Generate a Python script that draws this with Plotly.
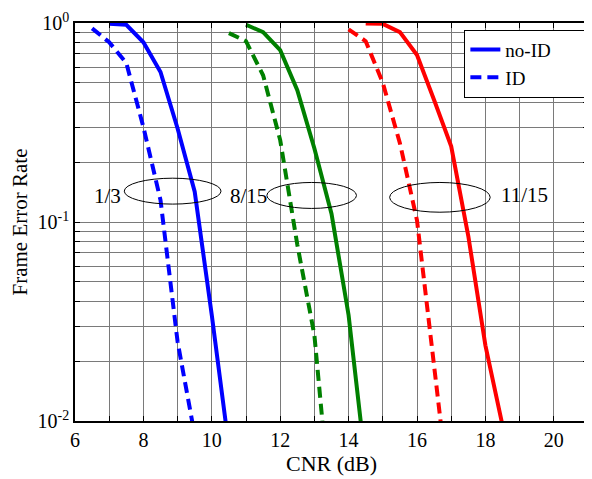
import plotly.graph_objects as go
import math

# ---- data ----
blue_noid_x = [7.0, 7.5, 8.0, 8.5, 9.0, 9.5, 10.0, 10.5]
blue_noid_y = [0.99, 0.98, 0.80, 0.567, 0.295, 0.142, 0.034, 0.0074]
blue_id_x = [6.5, 7.0, 7.5, 8.0, 8.5, 9.0, 9.5]
blue_id_y = [0.94, 0.80, 0.63, 0.30, 0.129, 0.025, 0.0085]

green_noid_x = [11.0, 11.5, 12.0, 12.5, 13.0, 13.5, 14.0, 14.5]
green_noid_y = [0.98, 0.90, 0.73, 0.46, 0.234, 0.11, 0.034, 0.006]
green_id_x = [10.5, 11.0, 11.5, 12.0, 12.5, 13.0, 13.5]
green_id_y = [0.89, 0.81, 0.546, 0.258, 0.077, 0.027, 0.0032]

red_noid_x = [14.5, 15.0, 15.5, 16.0, 16.5, 17.0, 17.5, 18.0, 18.5]
red_noid_y = [0.995, 0.99, 0.90, 0.69, 0.41, 0.24, 0.085, 0.024, 0.0095]
red_id_x = [14.0, 14.5, 15.0, 15.5, 16.0, 16.5, 17.0]
red_id_y = [0.93, 0.81, 0.50, 0.249, 0.102, 0.019, 0.0035]

legend_names = ["no-ID", "ID"]
rate_labels = ["1/3", "8/15", "11/15"]
label_x = [6.96, 11.07, 19.14]
label_y = [0.135, 0.135, 0.137]
ellipse_x0 = [7.44, 11.61, 15.20]
ellipse_x1 = [10.27, 14.23, 18.14]
ellipse_ylo = [0.123, 0.117, 0.112]
ellipse_yhi = [0.166, 0.158, 0.158]

x_major = [6, 8, 10, 12, 14, 16, 18, 20]
x_minor = [7, 9, 11, 13, 15, 17, 19, 21]
y_major = [0.01, 0.1, 1]
y_major_text = ["10<sup>-2</sup>", "10<sup>-1</sup>", "10<sup>0</sup>"]
y_minor = [0.02, 0.03, 0.04, 0.05, 0.06, 0.07, 0.08, 0.09,
           0.2, 0.3, 0.4, 0.5, 0.6, 0.7, 0.8, 0.9]

FONT = "Liberation Serif, Times New Roman, serif"
DASH = "11px,6px"
LW = 4
PAD = "\u00a0" * 6  # widen the legend box like the original

fig = go.Figure()
series = [
    (blue_noid_x, blue_noid_y, "#0000FF", "solid", legend_names[0] + PAD, True),
    (blue_id_x, blue_id_y, "#0000FF", DASH, legend_names[1], True),
    (green_noid_x, green_noid_y, "#008000", "solid", legend_names[0], False),
    (green_id_x, green_id_y, "#008000", DASH, legend_names[1], False),
    (red_noid_x, red_noid_y, "#FF0000", "solid", legend_names[0], False),
    (red_id_x, red_id_y, "#FF0000", DASH, legend_names[1], False),
]
for xs, ys, col, dash, name, sl in series:
    fig.add_trace(go.Scatter(x=xs, y=ys, mode="lines", name=name, showlegend=sl,
                             line=dict(color=col, width=LW, dash=dash)))

def dom(v):
    return (math.log10(v) + 2) / 2

for i in range(3):
    fig.add_shape(type="circle", xref="x", yref="y domain",
                  x0=ellipse_x0[i], x1=ellipse_x1[i],
                  y0=dom(ellipse_ylo[i]), y1=dom(ellipse_yhi[i]),
                  line=dict(color="black", width=1))
    fig.add_annotation(x=label_x[i], y=dom(label_y[i]), xref="x", yref="y domain",
                       text=rate_labels[i], showarrow=False,
                       font=dict(family=FONT, size=21, color="black"))

GRID = "#7a7a7a"
fig.update_xaxes(range=[6, 21], tickvals=x_major, ticks="inside", ticklen=5,
                 showgrid=True, gridcolor=GRID, gridwidth=1,
                 showline=True, linecolor="black", linewidth=1.5, mirror="ticks",
                 tickcolor="black", zeroline=False,
                 tickfont=dict(family=FONT, size=20, color="black"),
                 title=dict(text="CNR (dB)", font=dict(family=FONT, size=22, color="black"), standoff=2),
                 minor=dict(tickvals=x_minor, ticks="inside", ticklen=5, tickcolor="black",
                            showgrid=True, gridcolor=GRID, gridwidth=1))
fig.update_yaxes(type="log", range=[-2, 0], tickvals=y_major, ticktext=y_major_text,
                 ticks="inside", ticklen=5, tickcolor="black",
                 showgrid=True, gridcolor=GRID, gridwidth=1,
                 showline=True, linecolor="black", linewidth=1.5, mirror="ticks",
                 zeroline=False,
                 tickfont=dict(family=FONT, size=20, color="black"),
                 title=dict(text="Frame Error Rate", font=dict(family=FONT, size=21, color="black"), standoff=6),
                 minor=dict(tickvals=y_minor, ticks="inside", ticklen=5, tickcolor="black",
                            showgrid=True, gridcolor=GRID, gridwidth=1))

fig.update_layout(
    width=584, height=471,
    margin=dict(l=67, r=2, t=14, b=58),
    paper_bgcolor="white", plot_bgcolor="white",
    font=dict(family=FONT, size=20, color="black"),
    legend=dict(x=0.759, y=0.983, xanchor="left", yanchor="top",
                bgcolor="white", bordercolor="black", borderwidth=1,
                font=dict(family=FONT, size=19, color="black"),
                tracegroupgap=0),
)

fig.write_html("out.html")
